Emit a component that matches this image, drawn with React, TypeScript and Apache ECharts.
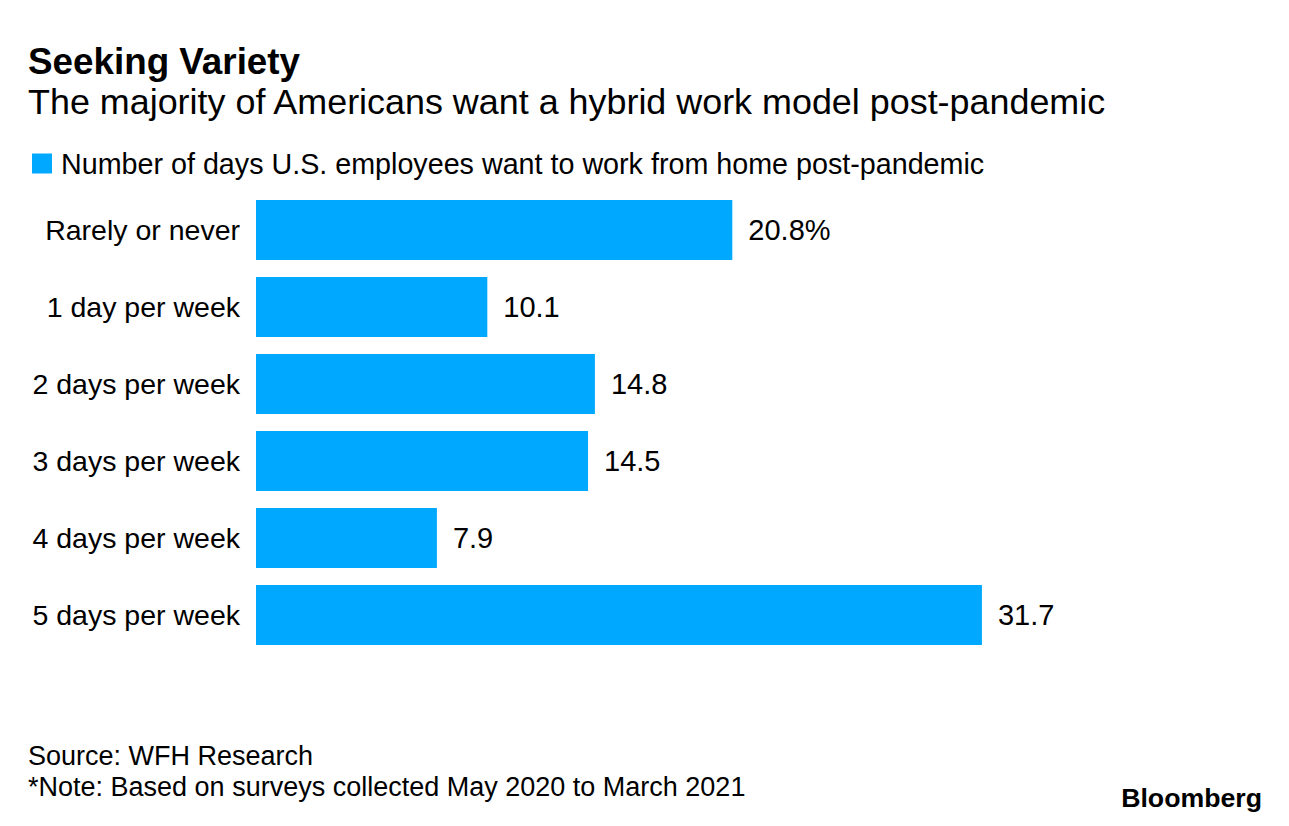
import React, { useEffect, useRef } from "react";
import * as echarts from "echarts";

const categories = [
  "Rarely or never",
  "1 day per week",
  "2 days per week",
  "3 days per week",
  "4 days per week",
  "5 days per week",
];
const values = [20.8, 10.1, 14.8, 14.5, 7.9, 31.7];
const seriesName = "Number of days U.S. employees want to work from home post-pandemic";
const titleText = "Seeking Variety";
const subtitleText = "The majority of Americans want a hybrid work model post-pandemic";
const sourceText = "Source: WFH Research";
const noteText = "*Note: Based on surveys collected May 2020 to March 2021";
const brandText = "Bloomberg";

const FONT = "'Liberation Sans', Arial, Helvetica, sans-serif";
const BLUE = "#00a9ff";

export default function App() {
  const ref = useRef<HTMLDivElement>(null);
  useEffect(() => {
    if (!ref.current) return;
    const chart = echarts.init(ref.current, undefined, { renderer: "svg" });
    chart.setOption({
      animation: false,
      backgroundColor: "#ffffff",
      textStyle: { fontFamily: FONT },
      legend: {
        left: 27,
        top: 144,
        icon: "rect",
        itemWidth: 20,
        itemHeight: 20,
        itemGap: 0,
        selectedMode: false,
        textStyle: { fontFamily: FONT, fontSize: 28.7, color: "#000", padding: [0, 0, 0, 4] },
        data: [seriesName],
      },
      grid: { left: 256, top: 191.5, width: 916, height: 462, containLabel: false },
      xAxis: {
        type: "value",
        min: 0,
        max: 40,
        show: false,
        splitLine: { show: false },
      },
      yAxis: {
        type: "category",
        data: categories,
        inverse: true,
        axisLine: { show: false },
        axisTick: { show: false },
        splitLine: { show: false },
        axisLabel: { fontFamily: FONT, fontSize: 28.5, color: "#000", margin: 16 },
      },
      series: [
        {
          name: seriesName,
          type: "bar",
          data: values,
          barWidth: 60,
          itemStyle: { color: BLUE },
          label: {
            show: true,
            position: "right",
            distance: 16,
            fontFamily: FONT,
            fontSize: 29,
            color: "#000",
            formatter: (p: any) => (p.dataIndex === 0 ? `${p.value}%` : `${p.value}`),
          },
        },
      ],
      graphic: [
        {
          type: "text",
          left: 28,
          top: 43,
          style: { text: titleText, font: `bold 36.8px ${FONT}`, fill: "#000" },
        },
        {
          type: "text",
          left: 28,
          top: 84,
          style: { text: subtitleText, font: `35.9px ${FONT}`, fill: "#000" },
        },
        {
          type: "text",
          left: 28,
          top: 742,
          style: { text: sourceText, font: `27px ${FONT}`, fill: "#000" },
        },
        {
          type: "text",
          left: 28,
          top: 773,
          style: { text: noteText, font: `27px ${FONT}`, fill: "#000" },
        },
        {
          type: "text",
          right: 27,
          top: 784,
          style: { text: brandText, font: `bold 26.7px ${FONT}`, fill: "#000" },
        },
      ],
    });
    return () => chart.dispose();
  }, []);
  return (
    <div
      ref={ref}
      style={{ position: "absolute", left: 0, top: 0, width: 1289, height: 826, background: "#fff" }}
    />
  );
}
